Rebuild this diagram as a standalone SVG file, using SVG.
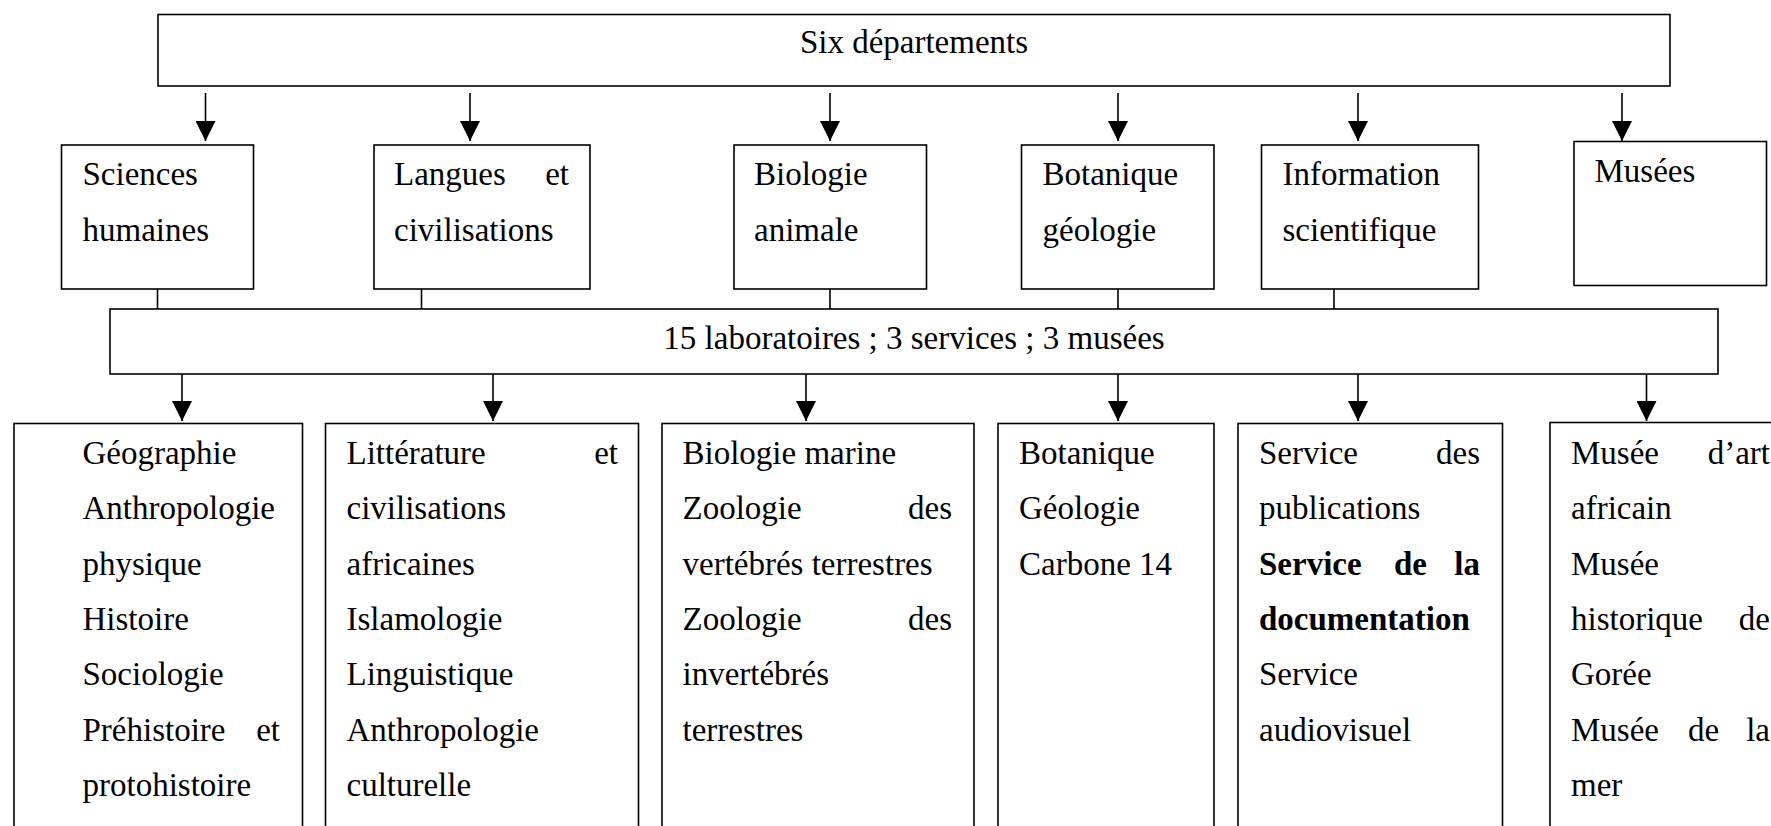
<svg xmlns="http://www.w3.org/2000/svg" width="1771" height="826" viewBox="0 0 1771 826">
<style>
  .box { fill: #fff; stroke: #000; stroke-width: 1.6; }
  .t { font-size: 33px; fill: #000; }
  .b { font-weight: bold; }
  .e { text-anchor: end; }
  .m { text-anchor: middle; }
  .ln { stroke: #000; stroke-width: 1.6; fill: none; }
</style>
<defs>
  <marker id="ah" markerUnits="userSpaceOnUse" markerWidth="20" markerHeight="20" refX="20" refY="10" orient="auto">
    <path d="M0,0 L20,10 L0,20 z" fill="#000"/>
  </marker>
</defs>
<rect width="1771" height="826" fill="#fff"/>

<g id="connectors">
  <line class="ln" x1="205.5" y1="93" x2="205.5" y2="141" marker-end="url(#ah)"/>
  <line class="ln" x1="470" y1="93" x2="470" y2="141" marker-end="url(#ah)"/>
  <line class="ln" x1="830" y1="93" x2="830" y2="141" marker-end="url(#ah)"/>
  <line class="ln" x1="1118" y1="93" x2="1118" y2="141" marker-end="url(#ah)"/>
  <line class="ln" x1="1358" y1="93" x2="1358" y2="141" marker-end="url(#ah)"/>
  <line class="ln" x1="1622" y1="93" x2="1622" y2="141" marker-end="url(#ah)"/>
  <line class="ln" x1="157.5" y1="289" x2="157.5" y2="309"/>
  <line class="ln" x1="421.5" y1="289" x2="421.5" y2="309"/>
  <line class="ln" x1="830" y1="289" x2="830" y2="309"/>
  <line class="ln" x1="1118" y1="289" x2="1118" y2="309"/>
  <line class="ln" x1="1334" y1="289" x2="1334" y2="309"/>
  <line class="ln" x1="182" y1="374" x2="182" y2="421" marker-end="url(#ah)"/>
  <line class="ln" x1="493" y1="374" x2="493" y2="421" marker-end="url(#ah)"/>
  <line class="ln" x1="806" y1="374" x2="806" y2="421" marker-end="url(#ah)"/>
  <line class="ln" x1="1118" y1="374" x2="1118" y2="421" marker-end="url(#ah)"/>
  <line class="ln" x1="1358" y1="374" x2="1358" y2="421" marker-end="url(#ah)"/>
  <line class="ln" x1="1646.5" y1="374" x2="1646.5" y2="421" marker-end="url(#ah)"/>
</g>

<g id="nodes" font-family="'Liberation Serif', 'Times New Roman', Times, serif">
<g id="six-departements">
  <rect class="box" x="158" y="14.5" width="1512" height="71.5"/>
  <text class="t m" x="914" y="53">Six départements</text>
</g>

<g id="sciences-humaines">
  <rect class="box" x="61.5" y="145" width="192" height="144"/>
  <text class="t" x="82.5" y="185">Sciences</text>
  <text class="t" x="82.5" y="240.5">humaines</text>
</g>
<g id="langues-civilisations">
  <rect class="box" x="374" y="145" width="216" height="144"/>
  <text class="t" x="394" y="185">Langues</text>
  <text class="t e" x="569" y="185">et</text>
  <text class="t" x="394" y="240.5">civilisations</text>
</g>
<g id="biologie-animale">
  <rect class="box" x="734" y="145" width="192.5" height="144"/>
  <text class="t" x="754" y="185">Biologie</text>
  <text class="t" x="754" y="240.5">animale</text>
</g>
<g id="botanique-geologie">
  <rect class="box" x="1021.5" y="145" width="192.5" height="144"/>
  <text class="t" x="1042.5" y="185">Botanique</text>
  <text class="t" x="1042.5" y="240.5">géologie</text>
</g>
<g id="information-scientifique">
  <rect class="box" x="1261.5" y="145" width="217" height="144"/>
  <text class="t" x="1282.5" y="185">Information</text>
  <text class="t" x="1282.5" y="240.5">scientifique</text>
</g>
<g id="musees">
  <rect class="box" x="1574" y="141.5" width="192.5" height="144"/>
  <text class="t" x="1594.5" y="181.5">Musées</text>
</g>

<g id="laboratoires">
  <rect class="box" x="110" y="309" width="1608" height="65"/>
  <text class="t m" x="914" y="349">15 laboratoires ; 3 services ; 3 musées</text>
</g>

<g id="labs-sciences-humaines">
  <rect class="box" x="14" y="423.5" width="288.5" height="420"/>
  <text class="t" x="82.5" y="464">Géographie</text>
  <text class="t" x="82.5" y="519">Anthropologie</text>
  <text class="t" x="82.5" y="574.5">physique</text>
  <text class="t" x="82.5" y="630">Histoire</text>
  <text class="t" x="82.5" y="685">Sociologie</text>
  <text class="t" x="82.5" y="740.5">Préhistoire</text>
  <text class="t e" x="280" y="740.5">et</text>
  <text class="t" x="82.5" y="796">protohistoire</text>
</g>
<g id="labs-langues">
  <rect class="box" x="325.5" y="423.5" width="313" height="420"/>
  <text class="t" x="346.5" y="464">Littérature</text>
  <text class="t e" x="618" y="464">et</text>
  <text class="t" x="346.5" y="519">civilisations</text>
  <text class="t" x="346.5" y="574.5">africaines</text>
  <text class="t" x="346.5" y="630">Islamologie</text>
  <text class="t" x="346.5" y="685">Linguistique</text>
  <text class="t" x="346.5" y="740.5">Anthropologie</text>
  <text class="t" x="346.5" y="796">culturelle</text>
</g>
<g id="labs-biologie">
  <rect class="box" x="662" y="423.5" width="312" height="420"/>
  <text class="t" x="682.5" y="464">Biologie marine</text>
  <text class="t" x="682.5" y="519">Zoologie</text>
  <text class="t e" x="952" y="519">des</text>
  <text class="t" x="682.5" y="574.5">vertébrés terrestres</text>
  <text class="t" x="682.5" y="630">Zoologie</text>
  <text class="t e" x="952" y="630">des</text>
  <text class="t" x="682.5" y="685">invertébrés</text>
  <text class="t" x="682.5" y="740.5">terrestres</text>
</g>
<g id="labs-botanique">
  <rect class="box" x="998" y="423.5" width="216" height="420"/>
  <text class="t" x="1019" y="464">Botanique</text>
  <text class="t" x="1019" y="519">Géologie</text>
  <text class="t" x="1019" y="574.5">Carbone 14</text>
</g>
<g id="services">
  <rect class="box" x="1238" y="423.5" width="264.5" height="420"/>
  <text class="t" x="1259" y="464">Service</text>
  <text class="t e" x="1480" y="464">des</text>
  <text class="t" x="1259" y="519">publications</text>
  <text class="t b" x="1259" y="574.5">Service</text>
  <text class="t b" x="1394" y="574.5">de</text>
  <text class="t b e" x="1480" y="574.5">la</text>
  <text class="t b" x="1259" y="630">documentation</text>
  <text class="t" x="1259" y="685">Service</text>
  <text class="t" x="1259" y="740.5">audiovisuel</text>
</g>
<g id="musees-liste">
  <rect class="box" x="1550" y="422.5" width="260" height="420"/>
  <text class="t" x="1571" y="464">Musée</text>
  <text class="t e" x="1770" y="464">d’art</text>
  <text class="t" x="1571" y="519">africain</text>
  <text class="t" x="1571" y="574.5">Musée</text>
  <text class="t" x="1571" y="630">historique</text>
  <text class="t e" x="1770" y="630">de</text>
  <text class="t" x="1571" y="685">Gorée</text>
  <text class="t" x="1571" y="740.5">Musée</text>
  <text class="t" x="1688" y="740.5">de</text>
  <text class="t e" x="1770" y="740.5">la</text>
  <text class="t" x="1571" y="796">mer</text>
</g>
</g>
</svg>
